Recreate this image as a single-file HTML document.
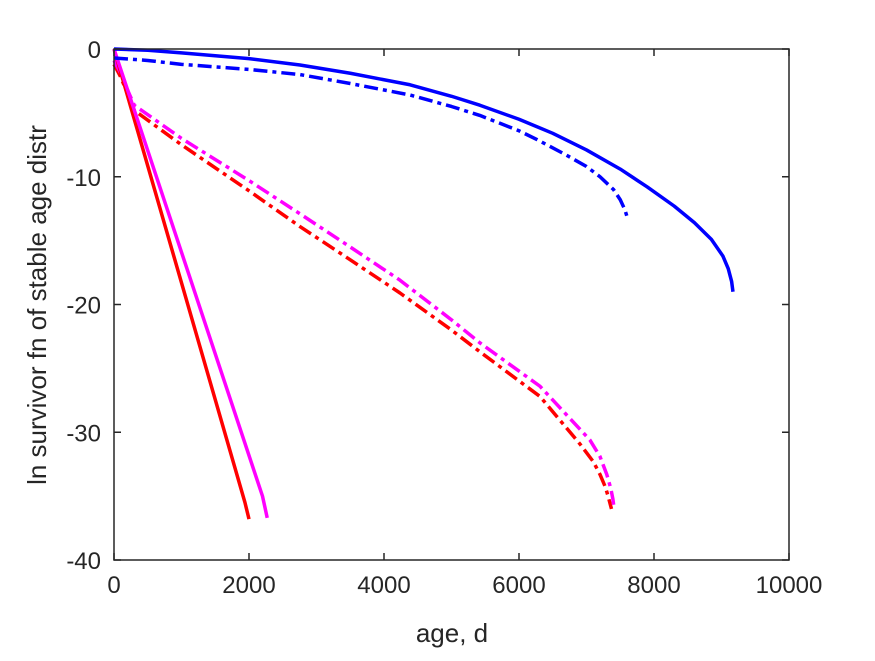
<!DOCTYPE html>
<html><head><meta charset="utf-8"><style>
body{margin:0;background:#fff}
svg text{font-family:"Liberation Sans",sans-serif;fill:#262626}
</style></head><body>
<svg id="chart" width="875" height="656" xmlns="http://www.w3.org/2000/svg">
<g id="lines"></g>
<g id="axes"></g>
<text x="452" y="642" font-size="26" text-anchor="middle">age, d</text>
<text transform="translate(46,305) rotate(-90)" font-size="26" text-anchor="middle">ln survivor fn of stable age distr</text>
</svg>
<script>
const xTicks=[0,2000,4000,6000,8000,10000];
const yTicks=[0,-10,-20,-30,-40];
const blueSolidX=[0,500,1000,2000,2755,3500,4385,5000,5420,6000,6500,7000,7500,7900,8300,8600,8850,9020,9100,9150,9170];
const blueSolidY=[0,-0.1,-0.3,-0.75,-1.25,-1.9,-2.8,-3.7,-4.4,-5.5,-6.6,-7.9,-9.4,-10.8,-12.3,-13.6,-14.9,-16.2,-17.2,-18.2,-19.0];
const blueDashX=[0,500,1000,2000,2755,3500,4385,5000,5420,6000,6270,6700,7000,7200,7400,7500,7570,7610];
const blueDashY=[-0.7,-0.9,-1.2,-1.6,-2.0,-2.7,-3.6,-4.5,-5.2,-6.4,-7.1,-8.3,-9.2,-10.0,-11.0,-11.8,-12.6,-13.3];
const redSolidX=[0,1940,2000];
const redSolidY=[0,-35.5,-36.8];
const magSolidX=[0,2200,2270];
const magSolidY=[0,-35,-36.7];
const redDashX=[0,100,200,300,1000,2000,2755,3500,4237,5000,5420,6311,6900,7100,7200,7280,7320,7350,7370];
const redDashY=[-1.2,-2.2,-3.5,-4.8,-7.5,-11.1,-13.9,-16.5,-19.1,-22.0,-23.7,-27.2,-30.9,-32.3,-33.3,-34.3,-35.0,-35.6,-36.0];
const magDashX=[0,100,200,300,1000,2000,2755,3500,4237,5000,5420,6311,7050,7200,7300,7360,7390,7410];
const magDashY=[-0.9,-1.9,-3.2,-4.4,-7.0,-10.3,-12.9,-15.5,-18.1,-21.2,-23.0,-26.4,-30.6,-31.9,-33.3,-34.4,-35.2,-36.0];
const L=114,R=789,T=49,B=560;
const sx=v=>L+(v-0)/(10000)*(R-L);
const sy=v=>T+(0-v)/40*(B-T);
const NS="http://www.w3.org/2000/svg";
const lines=document.getElementById('lines'),axes=document.getElementById('axes');
function series(xs,ys,color,dash,name){
 const p=document.createElementNS(NS,'polyline');
 
 
 p.setAttribute('points',xs.map((x,i)=>sx(x)+','+sy(ys[i])).join(' '));
 p.setAttribute('fill','none');p.setAttribute('stroke',color);p.setAttribute('stroke-width','3.5');
 p.setAttribute('stroke-linejoin','round');
 if(dash)p.setAttribute('stroke-dasharray','14 5 4 5');
 lines.appendChild(p);
}
series(redDashX,redDashY,'#ff0000',true,'red-dashdot-line');
series(magDashX,magDashY,'#ff00ff',true,'magenta-dashdot-line');
series(redSolidX,redSolidY,'#ff0000',false,'red-solid-line');
series(magSolidX,magSolidY,'#ff00ff',false,'magenta-solid-line');
series(blueDashX,blueDashY,'#0000ff',true,'blue-dashdot-line');
series(blueSolidX,blueSolidY,'#0000ff',false,'blue-solid-line');
const box=document.createElementNS(NS,'rect');


box.setAttribute('x',L);box.setAttribute('y',T);box.setAttribute('width',R-L);box.setAttribute('height',B-T);
box.setAttribute('fill','none');box.setAttribute('stroke','#262626');box.setAttribute('stroke-width','1.5');
axes.appendChild(box);
xTicks.forEach(t=>{
 const x=sx(t);
 [[B,B-7],[T,T+7]].forEach(([a,b])=>{const l=document.createElementNS(NS,'line');
 
 
 l.setAttribute('x1',x);l.setAttribute('x2',x);l.setAttribute('y1',a);l.setAttribute('y2',b);l.setAttribute('stroke','#262626');l.setAttribute('stroke-width','1.5');axes.appendChild(l);});
 const tx=document.createElementNS(NS,'text');
 
 
 tx.setAttribute('x',x);tx.setAttribute('y',B+33);tx.setAttribute('font-size','24');tx.setAttribute('text-anchor','middle');tx.textContent=t;axes.appendChild(tx);
});
yTicks.forEach(t=>{
 const y=sy(t);
 [[L,L+7],[R,R-7]].forEach(([a,b])=>{const l=document.createElementNS(NS,'line');
 
 
 l.setAttribute('x1',a);l.setAttribute('x2',b);l.setAttribute('y1',y);l.setAttribute('y2',y);l.setAttribute('stroke','#262626');l.setAttribute('stroke-width','1.5');axes.appendChild(l);});
 const tx=document.createElementNS(NS,'text');
 
 
 tx.setAttribute('x',L-13);tx.setAttribute('y',y+9);tx.setAttribute('font-size','24');tx.setAttribute('text-anchor','end');tx.textContent=t;axes.appendChild(tx);
});
</script>
</body></html>
